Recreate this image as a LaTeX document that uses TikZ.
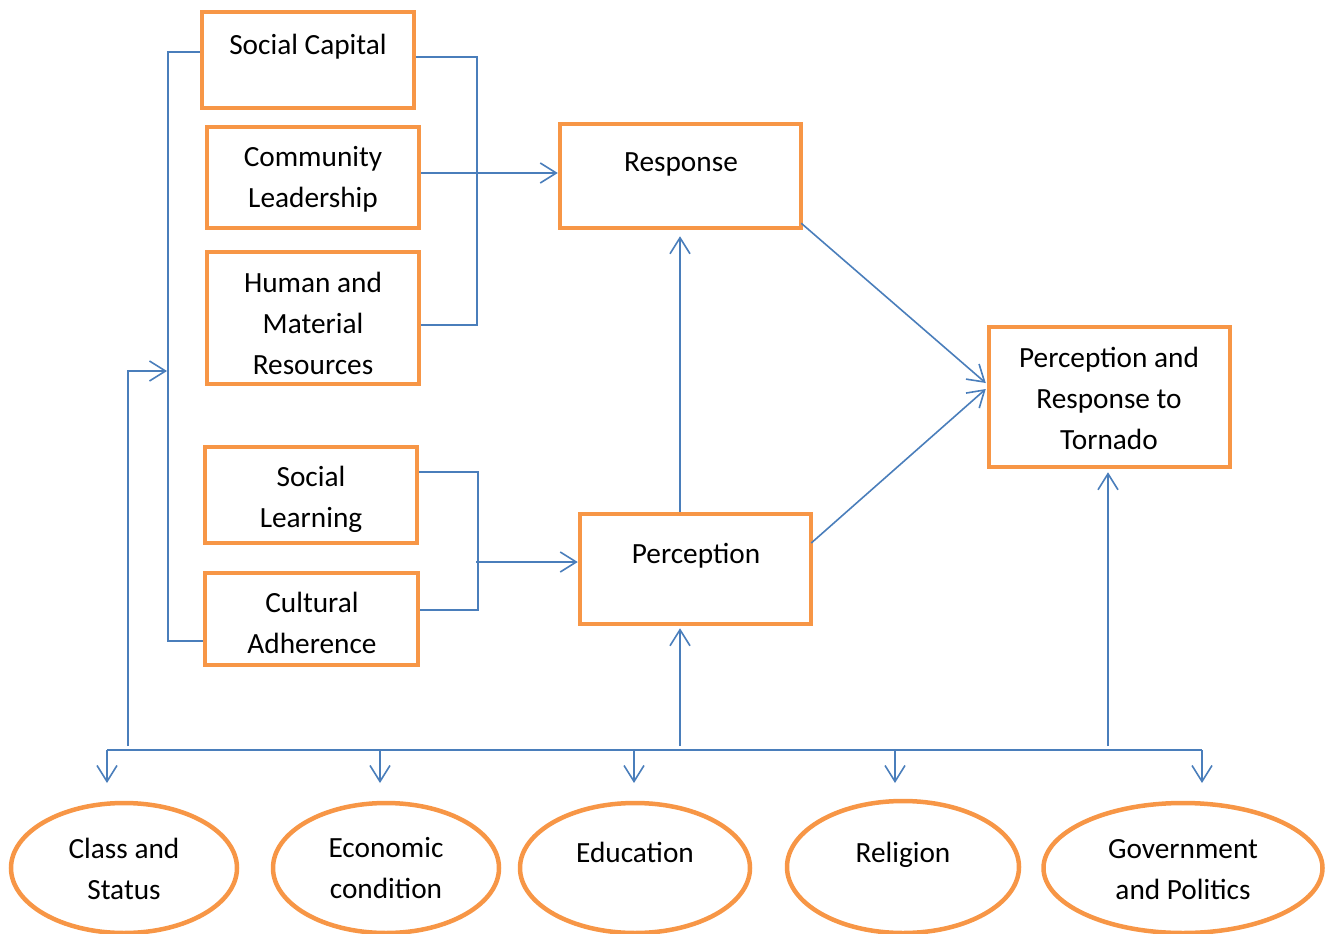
\documentclass[tikz,border=0pt]{standalone}
\usepackage{fontspec}
\setmainfont{Carlito}
\usetikzlibrary{arrows.meta,calc,shapes.geometric}
\definecolor{boxorange}{RGB}{247,150,70}
\definecolor{linkblue}{RGB}{74,126,187}
\begin{document}
\begin{tikzpicture}[x=1pt,y=-1pt,
  box/.style={draw=boxorange,line width=4.5pt,inner sep=0pt,rectangle},
  oval/.style={draw=boxorange,line width=4.5pt,inner sep=0pt,ellipse},
  txt/.style={align=center,inner sep=0pt,font=\fontsize{29.3}{41}\selectfont},
  conn/.style={draw=linkblue,line width=1.6pt},
  arr/.style={-{Straight Barb[length=16pt,width=20pt,line width=1.6pt]}}]
\useasboundingbox (0,0) rectangle (1326,934);

% factor boxes
\node[box,minimum width=212pt,minimum height=96pt]  (cap) at (308,60)    {};
\node[box,minimum width=212pt,minimum height=101pt] (com) at (313,177.5) {};
\node[box,minimum width=212pt,minimum height=132pt] (hum) at (313,318)   {};
\node[box,minimum width=241pt,minimum height=104pt] (res) at (680.5,176) {};
\node[box,minimum width=241pt,minimum height=140pt] (tor) at (1109.5,397){};
\node[box,minimum width=212pt,minimum height=96pt]  (sl)  at (311,495)   {};
\node[box,minimum width=213pt,minimum height=92pt]  (cul) at (311.5,619) {};
\node[box,minimum width=231pt,minimum height=110pt] (per) at (695.5,569) {};

% box texts
\node[txt] (capT) at (308,47)    {Social Capital};
\node[txt] (comT) at (313,179)   {Community\\Leadership};
\node[txt] (humT) at (313,323)   {Human and\\Material\\Resources};
\node[txt] (resT) at (681,164)   {Response};
\node[txt] (torT) at (1109,398)  {Perception and\\Response to\\Tornado};
\node[txt] (slT)  at (311,499)   {Social\\Learning};
\node[txt] (culT) at (312,623)   {Cultural\\Adherence};
\node[txt] (perT) at (696,556)   {Perception};

% background factors
\node[oval,minimum width=226pt,minimum height=130pt] (e1) at (124,868) {};
\node[oval,minimum width=226pt,minimum height=130pt] (e2) at (386,868) {};
\node[oval,minimum width=230pt,minimum height=130pt] (e3) at (635,868) {};
\node[oval,minimum width=232pt,minimum height=132pt] (e4) at (903,867) {};
\node[oval,minimum width=279pt,minimum height=130pt] (e5) at (1183,868) {};
\node[txt] (e1T) at (124,869) {Class and\\Status};
\node[txt] (e2T) at (386,868) {Economic\\condition};
\node[txt] (e3T) at (635,852) {Education};
\node[txt] (e4T) at (903,855) {Religion};
\node[txt] (e5T) at (1183,870) {Government\\and Politics};

% distribution bus and its arrows
\coordinate (busL) at (107,750);
\coordinate (busR) at (1202,750);
\draw[conn] (busL) -- (busR);
\foreach \x in {107,380,634,895,1202}
  \draw[conn,arr] (\x,750) -- (\x,783);

% feedback into the left bracket
\draw[conn,arr] (128,746) -- (128,371) -- (167,371);
\draw[conn] (cap.west |- 0,52) -- (168,52) -- (168,641) -- (cul.west |- 0,641);

% social capital group to response
\draw[conn] (cap.east |- 0,57) -- (477,57) -- (477,325) -- (hum.east |- 0,325);
\draw[conn,arr] (com.east |- 0,173) -- (res.west |- 0,173);

% social learning group to perception
\draw[conn] (sl.east |- 0,472) -- (478,472) -- (478,610) -- (cul.east |- 0,610);
\draw[conn,arr] (476,562) -- (per.west |- 0,562);

% perception / response links
\draw[conn,arr,shorten >=6pt] (per.north -| 680,0) -- (res.south -| 680,0);
\draw[conn,arr,shorten >=2pt] (680,746) -- (per.south -| 680,0);
\draw[conn,arr,shorten >=3pt] (1108,746) -- (tor.south -| 1108,0);
\draw[conn,arr] ($(res.south east)+(-2,-7)$) -- ($(tor.west)+(-1,-14)$);
\draw[conn,arr] ($(per.east)+(-2,-26)$) -- ($(tor.west)+(-1,-8)$);
\end{tikzpicture}
\end{document}
